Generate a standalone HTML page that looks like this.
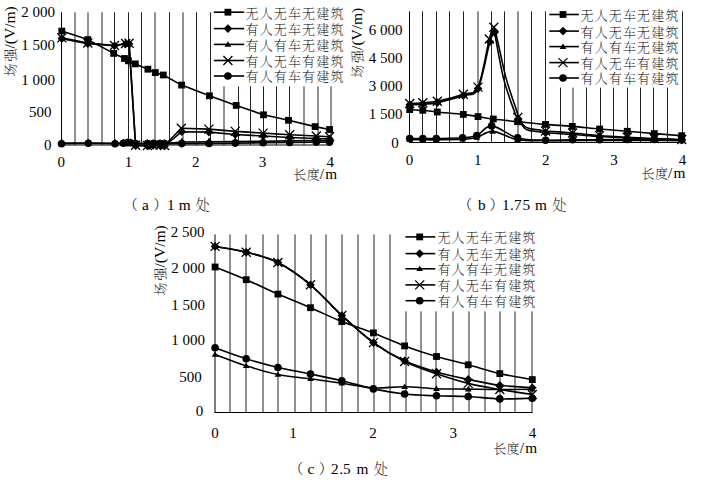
<!DOCTYPE html>
<html><head><meta charset="utf-8"><style>
html,body{margin:0;padding:0;background:#fff;}
body{width:703px;height:487px;overflow:hidden;}
svg{display:block;}
.t{font-family:'Liberation Serif','Noto Serif CJK SC',serif;font-size:15px;fill:#000;}
.lg{font-family:'Liberation Serif','Noto Serif CJK SC',serif;font-size:13px;letter-spacing:1.15px;font-weight:200;fill:#000;}
.cp{font-family:'Liberation Serif','Noto Serif CJK SC',serif;font-size:14.3px;font-weight:200;fill:#000;}
.tc{font-family:'Liberation Serif',serif;font-size:15.3px;fill:#000;}
.cj{font-family:'Liberation Serif','Noto Serif CJK SC',serif;font-size:13px;font-weight:200;fill:#000;}
</style></head><body>
<svg width="703" height="487" viewBox="0 0 703 487">
<rect width="703" height="487" fill="#fff"/>
<line x1="75" y1="12.3" x2="75" y2="145" stroke="#222" stroke-width="1.0"/>
<line x1="88" y1="12.3" x2="88" y2="145" stroke="#222" stroke-width="1.0"/>
<line x1="102" y1="12.3" x2="102" y2="145" stroke="#222" stroke-width="1.0"/>
<line x1="114.5" y1="12.3" x2="114.5" y2="145" stroke="#222" stroke-width="1.0"/>
<line x1="128.5" y1="12.3" x2="128.5" y2="145" stroke="#222" stroke-width="1.0"/>
<line x1="141.5" y1="12.3" x2="141.5" y2="145" stroke="#222" stroke-width="1.0"/>
<line x1="155" y1="12.3" x2="155" y2="145" stroke="#222" stroke-width="1.0"/>
<line x1="169.5" y1="12.3" x2="169.5" y2="145" stroke="#222" stroke-width="1.0"/>
<line x1="183" y1="12.3" x2="183" y2="145" stroke="#222" stroke-width="1.0"/>
<line x1="196.5" y1="12.3" x2="196.5" y2="145" stroke="#222" stroke-width="1.0"/>
<line x1="210.5" y1="12.3" x2="210.5" y2="145" stroke="#222" stroke-width="1.0"/>
<line x1="224" y1="86.4" x2="224" y2="145" stroke="#222" stroke-width="1.0"/>
<line x1="238.5" y1="86.4" x2="238.5" y2="145" stroke="#222" stroke-width="1.0"/>
<line x1="250.5" y1="86.4" x2="250.5" y2="145" stroke="#222" stroke-width="1.0"/>
<line x1="263.5" y1="86.4" x2="263.5" y2="145" stroke="#222" stroke-width="1.0"/>
<line x1="276.5" y1="86.4" x2="276.5" y2="145" stroke="#222" stroke-width="1.0"/>
<line x1="289.5" y1="86.4" x2="289.5" y2="145" stroke="#222" stroke-width="1.0"/>
<line x1="304" y1="86.4" x2="304" y2="145" stroke="#222" stroke-width="1.0"/>
<line x1="318" y1="86.4" x2="318" y2="145" stroke="#222" stroke-width="1.0"/>
<line x1="331" y1="86.4" x2="331" y2="145" stroke="#222" stroke-width="1.0"/>
<line x1="61.5" y1="12.3" x2="61.5" y2="145" stroke="#000" stroke-width="1.0"/>
<line x1="61" y1="145" x2="331.5" y2="145" stroke="#000" stroke-width="1.0"/>
<path d="M61.5,143.8 L88.3,143.3 L115,143.8 L123.3,143.3 L127.1,142.8 L130.5,142.8 L135.6,143.6 L147.5,143.6 L153.2,143.6 L160,143.6 L164.6,143.6 L181.8,143.6 L209.1,143.5 L235.3,143.1 L263.1,142.8 L289.7,142.5 L316.3,142.1 L329.6,142.1" fill="none" stroke="#000" stroke-width="1.6" stroke-linejoin="round"/>
<circle cx="61.5" cy="143.8" r="3.8" fill="#000"/>
<circle cx="88.3" cy="143.3" r="3.8" fill="#000"/>
<circle cx="115" cy="143.8" r="3.8" fill="#000"/>
<circle cx="123.3" cy="143.3" r="3.8" fill="#000"/>
<circle cx="127.1" cy="142.8" r="3.8" fill="#000"/>
<circle cx="130.5" cy="142.8" r="3.8" fill="#000"/>
<circle cx="135.6" cy="143.6" r="3.8" fill="#000"/>
<circle cx="147.5" cy="143.6" r="3.8" fill="#000"/>
<circle cx="153.2" cy="143.6" r="3.8" fill="#000"/>
<circle cx="160" cy="143.6" r="3.8" fill="#000"/>
<circle cx="164.6" cy="143.6" r="3.8" fill="#000"/>
<circle cx="181.8" cy="143.6" r="3.8" fill="#000"/>
<circle cx="209.1" cy="143.5" r="3.8" fill="#000"/>
<circle cx="235.3" cy="143.1" r="3.8" fill="#000"/>
<circle cx="263.1" cy="142.8" r="3.8" fill="#000"/>
<circle cx="289.7" cy="142.5" r="3.8" fill="#000"/>
<circle cx="316.3" cy="142.1" r="3.8" fill="#000"/>
<circle cx="329.6" cy="142.1" r="3.8" fill="#000"/>
<path d="M61.8,143 L88.3,143 L115,143.2 L123.3,143 L127.1,142.6 L130.5,142.6 L135.6,143.5 L147.5,143.5 L153.2,143.5 L160,143.5 L164.6,143.5 L181.8,142 L209.1,141.9 L235.3,141.5 L263.1,141.2 L289.7,140.9 L316.3,140.5 L329.6,140.5" fill="none" stroke="#000" stroke-width="1.6" stroke-linejoin="round"/>
<path d="M61.8,138.4 L65.1,144.8 L58.5,144.8Z" fill="#000"/>
<path d="M88.3,138.4 L91.6,144.8 L85,144.8Z" fill="#000"/>
<path d="M115,138.6 L118.3,145 L111.7,145Z" fill="#000"/>
<path d="M123.3,138.4 L126.6,144.8 L120,144.8Z" fill="#000"/>
<path d="M127.1,138 L130.4,144.4 L123.8,144.4Z" fill="#000"/>
<path d="M130.5,138 L133.8,144.4 L127.2,144.4Z" fill="#000"/>
<path d="M135.6,138.9 L138.9,145.3 L132.3,145.3Z" fill="#000"/>
<path d="M147.5,138.9 L150.8,145.3 L144.2,145.3Z" fill="#000"/>
<path d="M153.2,138.9 L156.5,145.3 L149.9,145.3Z" fill="#000"/>
<path d="M160,138.9 L163.3,145.3 L156.7,145.3Z" fill="#000"/>
<path d="M164.6,138.9 L167.9,145.3 L161.3,145.3Z" fill="#000"/>
<path d="M181.8,137.4 L185.1,143.8 L178.5,143.8Z" fill="#000"/>
<path d="M209.1,137.3 L212.4,143.7 L205.8,143.7Z" fill="#000"/>
<path d="M235.3,136.9 L238.6,143.3 L232,143.3Z" fill="#000"/>
<path d="M263.1,136.6 L266.4,143 L259.8,143Z" fill="#000"/>
<path d="M289.7,136.3 L293,142.7 L286.4,142.7Z" fill="#000"/>
<path d="M316.3,135.9 L319.6,142.3 L313,142.3Z" fill="#000"/>
<path d="M329.6,135.9 L332.9,142.3 L326.3,142.3Z" fill="#000"/>
<path d="M61.8,38.6 L87.8,43.6 L114.5,45.8 L125.6,44 L129.1,44 L135.6,145.8 L147.5,146 L153.2,145.5 L160,145.5 L164.6,146 L181.8,131.7 L208.9,132.1 L235.3,134.5 L263.1,136 L289.7,137.5 L316.3,138.5 L329.6,139" fill="none" stroke="#000" stroke-width="1.6" stroke-linejoin="round"/>
<path d="M61.8,34.3 L66.1,38.6 L61.8,42.9 L57.5,38.6Z" fill="#000"/>
<path d="M87.8,39.3 L92.1,43.6 L87.8,47.9 L83.5,43.6Z" fill="#000"/>
<path d="M114.5,41.5 L118.8,45.8 L114.5,50.1 L110.2,45.8Z" fill="#000"/>
<path d="M125.6,39.7 L129.9,44 L125.6,48.3 L121.3,44Z" fill="#000"/>
<path d="M129.1,39.7 L133.4,44 L129.1,48.3 L124.8,44Z" fill="#000"/>
<path d="M135.6,141.5 L139.9,145.8 L135.6,150.1 L131.3,145.8Z" fill="#000"/>
<path d="M147.5,141.7 L151.8,146 L147.5,150.3 L143.2,146Z" fill="#000"/>
<path d="M153.2,141.2 L157.5,145.5 L153.2,149.8 L148.9,145.5Z" fill="#000"/>
<path d="M160,141.2 L164.3,145.5 L160,149.8 L155.7,145.5Z" fill="#000"/>
<path d="M164.6,141.7 L168.9,146 L164.6,150.3 L160.3,146Z" fill="#000"/>
<path d="M181.8,127.4 L186.1,131.7 L181.8,136 L177.5,131.7Z" fill="#000"/>
<path d="M208.9,127.8 L213.2,132.1 L208.9,136.4 L204.6,132.1Z" fill="#000"/>
<path d="M235.3,130.2 L239.6,134.5 L235.3,138.8 L231,134.5Z" fill="#000"/>
<path d="M263.1,131.7 L267.4,136 L263.1,140.3 L258.8,136Z" fill="#000"/>
<path d="M289.7,133.2 L294,137.5 L289.7,141.8 L285.4,137.5Z" fill="#000"/>
<path d="M316.3,134.2 L320.6,138.5 L316.3,142.8 L312,138.5Z" fill="#000"/>
<path d="M329.6,134.7 L333.9,139 L329.6,143.3 L325.3,139Z" fill="#000"/>
<path d="M61.8,37.9 L87.8,43 L114.5,45.5 L125.6,43.5 L129.1,43.3 L135.6,145.3 L147.5,145.5 L153.2,145 L160,145 L164.6,145.5 L181.3,128.2 L208.9,129.1 L235.3,131.4 L263.1,133.1 L289.7,134.8 L316.3,136 L329.6,136.8" fill="none" stroke="#000" stroke-width="1.6" stroke-linejoin="round"/>
<path d="M57.3,33.4 L66.3,42.4 M66.3,33.4 L57.3,42.4" stroke="#000" stroke-width="1.3" fill="none"/>
<path d="M83.3,38.5 L92.3,47.5 M92.3,38.5 L83.3,47.5" stroke="#000" stroke-width="1.3" fill="none"/>
<path d="M110,41 L119,50 M119,41 L110,50" stroke="#000" stroke-width="1.3" fill="none"/>
<path d="M121.1,39 L130.1,48 M130.1,39 L121.1,48" stroke="#000" stroke-width="1.3" fill="none"/>
<path d="M124.6,38.8 L133.6,47.8 M133.6,38.8 L124.6,47.8" stroke="#000" stroke-width="1.3" fill="none"/>
<path d="M131.1,140.8 L140.1,149.8 M140.1,140.8 L131.1,149.8" stroke="#000" stroke-width="1.3" fill="none"/>
<path d="M143,141 L152,150 M152,141 L143,150" stroke="#000" stroke-width="1.3" fill="none"/>
<path d="M148.7,140.5 L157.7,149.5 M157.7,140.5 L148.7,149.5" stroke="#000" stroke-width="1.3" fill="none"/>
<path d="M155.5,140.5 L164.5,149.5 M164.5,140.5 L155.5,149.5" stroke="#000" stroke-width="1.3" fill="none"/>
<path d="M160.1,141 L169.1,150 M169.1,141 L160.1,150" stroke="#000" stroke-width="1.3" fill="none"/>
<path d="M176.8,123.7 L185.8,132.7 M185.8,123.7 L176.8,132.7" stroke="#000" stroke-width="1.3" fill="none"/>
<path d="M204.4,124.6 L213.4,133.6 M213.4,124.6 L204.4,133.6" stroke="#000" stroke-width="1.3" fill="none"/>
<path d="M230.8,126.9 L239.8,135.9 M239.8,126.9 L230.8,135.9" stroke="#000" stroke-width="1.3" fill="none"/>
<path d="M258.6,128.6 L267.6,137.6 M267.6,128.6 L258.6,137.6" stroke="#000" stroke-width="1.3" fill="none"/>
<path d="M285.2,130.3 L294.2,139.3 M294.2,130.3 L285.2,139.3" stroke="#000" stroke-width="1.3" fill="none"/>
<path d="M311.8,131.5 L320.8,140.5 M320.8,131.5 L311.8,140.5" stroke="#000" stroke-width="1.3" fill="none"/>
<path d="M325.1,132.3 L334.1,141.3 M334.1,132.3 L325.1,141.3" stroke="#000" stroke-width="1.3" fill="none"/>
<path d="M61.8,31.1 L87.8,39.6 L113.7,53.4 L124.5,58.5 L128.4,60.8 L135.3,63.9 L147.9,69.2 L155.3,72.6 L163.3,75 L181.6,85.1 L209.4,95.8 L236.2,105.4 L263.5,114.8 L288.5,120.3 L315.1,126.6 L329.6,129.5" fill="none" stroke="#000" stroke-width="1.6" stroke-linejoin="round"/>
<rect x="58.4" y="27.7" width="6.8" height="6.8" fill="#000"/>
<rect x="84.4" y="36.2" width="6.8" height="6.8" fill="#000"/>
<rect x="110.3" y="50" width="6.8" height="6.8" fill="#000"/>
<rect x="121.1" y="55.1" width="6.8" height="6.8" fill="#000"/>
<rect x="125" y="57.4" width="6.8" height="6.8" fill="#000"/>
<rect x="131.9" y="60.5" width="6.8" height="6.8" fill="#000"/>
<rect x="144.5" y="65.8" width="6.8" height="6.8" fill="#000"/>
<rect x="151.9" y="69.2" width="6.8" height="6.8" fill="#000"/>
<rect x="159.9" y="71.6" width="6.8" height="6.8" fill="#000"/>
<rect x="178.2" y="81.7" width="6.8" height="6.8" fill="#000"/>
<rect x="206" y="92.4" width="6.8" height="6.8" fill="#000"/>
<rect x="232.8" y="102" width="6.8" height="6.8" fill="#000"/>
<rect x="260.1" y="111.4" width="6.8" height="6.8" fill="#000"/>
<rect x="285.1" y="116.9" width="6.8" height="6.8" fill="#000"/>
<rect x="311.7" y="123.2" width="6.8" height="6.8" fill="#000"/>
<rect x="326.2" y="126.1" width="6.8" height="6.8" fill="#000"/>
<text x="54.9" y="17.1" text-anchor="end" class="t">2 000</text>
<text x="55.1" y="49.9" text-anchor="end" class="t">1 500</text>
<text x="54.9" y="84.5" text-anchor="end" class="t">1 000</text>
<text x="51.4" y="117.1" text-anchor="end" class="t">500</text>
<text x="51.4" y="150" text-anchor="end" class="t">0</text>
<text x="61.2" y="166.8" text-anchor="middle" class="t">0</text>
<text x="128.6" y="166.8" text-anchor="middle" class="t">1</text>
<text x="195.8" y="166.8" text-anchor="middle" class="t">2</text>
<text x="262.6" y="166.8" text-anchor="middle" class="t">3</text>
<text x="330.2" y="166.8" text-anchor="middle" class="t">4</text>
<text y="179.3" class="cj"><tspan x="293.25">长</tspan><tspan x="306.7">度</tspan></text>
<text y="179.3" class="tc"><tspan x="319.8">/</tspan><tspan x="325.35">m</tspan></text>
<g transform="translate(15,75.7) rotate(-90)"><text y="0" class="cj"><tspan x="-0.75">场</tspan><tspan x="14.2">强</tspan></text><text y="0" x="27.2" class="t" style="font-size:15.5px">/(V/m)</text></g>
<line x1="213.8" y1="12.2" x2="244.2" y2="12.2" stroke="#000" stroke-width="1.6"/>
<rect x="224.5" y="8.8" width="6.8" height="6.8" fill="#000"/>
<text x="245.5" y="17.6" class="lg">无人无车无建筑</text>
<line x1="213.8" y1="28.6" x2="244.2" y2="28.6" stroke="#000" stroke-width="1.6"/>
<path d="M227.9,24.3 L232.2,28.6 L227.9,32.9 L223.6,28.6Z" fill="#000"/>
<text x="245.5" y="34" class="lg">有人无车无建筑</text>
<line x1="213.8" y1="44.4" x2="244.2" y2="44.4" stroke="#000" stroke-width="1.6"/>
<path d="M227.9,41.3 L231.25,46.7 L224.55,46.7Z" fill="#000"/>
<text x="245.5" y="49.8" class="lg">有人有车无建筑</text>
<line x1="213.8" y1="60.5" x2="244.2" y2="60.5" stroke="#000" stroke-width="1.6"/>
<path d="M223.4,56 L232.4,65 M232.4,56 L223.4,65" stroke="#000" stroke-width="1.3" fill="none"/>
<text x="245.5" y="65.9" class="lg">有人无车有建筑</text>
<line x1="213.8" y1="76" x2="244.2" y2="76" stroke="#000" stroke-width="1.6"/>
<circle cx="227.9" cy="76" r="3.8" fill="#000"/>
<text x="245.5" y="81.4" class="lg">有人有车有建筑</text>
<text x="123.55" y="209.5" class="cp">（</text>
<text x="141.9" y="209.5" class="tc">a</text>
<text x="153.3" y="209.5" class="cp">）</text>
<text x="167.05" y="209.5" class="tc">1</text>
<text x="178.75" y="209.5" class="tc">m</text>
<text x="195.6" y="209.5" class="cp">处</text>
<line x1="422.5" y1="11.4" x2="422.5" y2="142.5" stroke="#222" stroke-width="1.0"/>
<line x1="436.5" y1="11.4" x2="436.5" y2="142.5" stroke="#222" stroke-width="1.0"/>
<line x1="449.5" y1="11.4" x2="449.5" y2="142.5" stroke="#222" stroke-width="1.0"/>
<line x1="463.5" y1="11.4" x2="463.5" y2="142.5" stroke="#222" stroke-width="1.0"/>
<line x1="478" y1="11.4" x2="478" y2="142.5" stroke="#222" stroke-width="1.0"/>
<line x1="491.5" y1="11.4" x2="491.5" y2="142.5" stroke="#222" stroke-width="1.0"/>
<line x1="504.5" y1="11.4" x2="504.5" y2="142.5" stroke="#222" stroke-width="1.0"/>
<line x1="518" y1="11.4" x2="518" y2="142.5" stroke="#222" stroke-width="1.0"/>
<line x1="531.5" y1="11.4" x2="531.5" y2="142.5" stroke="#222" stroke-width="1.0"/>
<line x1="545.5" y1="11.4" x2="545.5" y2="142.5" stroke="#222" stroke-width="1.0"/>
<line x1="560.5" y1="87.6" x2="560.5" y2="142.5" stroke="#222" stroke-width="1.0"/>
<line x1="573" y1="87.6" x2="573" y2="142.5" stroke="#222" stroke-width="1.0"/>
<line x1="586.5" y1="87.6" x2="586.5" y2="142.5" stroke="#222" stroke-width="1.0"/>
<line x1="600.5" y1="87.6" x2="600.5" y2="142.5" stroke="#222" stroke-width="1.0"/>
<line x1="613.5" y1="87.6" x2="613.5" y2="142.5" stroke="#222" stroke-width="1.0"/>
<line x1="627.5" y1="87.6" x2="627.5" y2="142.5" stroke="#222" stroke-width="1.0"/>
<line x1="640.5" y1="87.6" x2="640.5" y2="142.5" stroke="#222" stroke-width="1.0"/>
<line x1="653.5" y1="87.6" x2="653.5" y2="142.5" stroke="#222" stroke-width="1.0"/>
<line x1="667.5" y1="87.6" x2="667.5" y2="142.5" stroke="#222" stroke-width="1.0"/>
<line x1="682.5" y1="11.4" x2="682.5" y2="142.5" stroke="#222" stroke-width="1.0"/>
<line x1="409.5" y1="11.4" x2="409.5" y2="142.5" stroke="#000" stroke-width="1.0"/>
<line x1="409" y1="142.5" x2="683" y2="142.5" stroke="#000" stroke-width="1.0"/>
<path d="M409.7,138.5 C411.88,138.5 418.37,138.5 422.8,138.5 C427.23,138.5 429.67,138.62 436.3,138.5 C442.93,138.38 455.85,138.28 462.6,137.8 C469.35,137.32 471.95,137.58 476.8,135.6 C481.65,133.62 484.9,125.52 491.7,125.9 C498.5,126.28 508.62,135.5 517.6,137.9 C526.58,140.3 536.43,139.98 545.6,140.3 C554.77,140.62 563.6,139.88 572.6,139.8 C581.6,139.72 590.48,139.85 599.6,139.8 C608.72,139.75 618.18,139.55 627.3,139.5 C636.42,139.45 645.23,139.42 654.3,139.5 C663.37,139.58 677.13,139.92 681.7,140" fill="none" stroke="#000" stroke-width="1.6" stroke-linejoin="round"/>
<circle cx="409.7" cy="138.5" r="3.8" fill="#000"/>
<circle cx="422.8" cy="138.5" r="3.8" fill="#000"/>
<circle cx="436.3" cy="138.5" r="3.8" fill="#000"/>
<circle cx="462.6" cy="137.8" r="3.8" fill="#000"/>
<circle cx="476.8" cy="135.6" r="3.8" fill="#000"/>
<circle cx="491.7" cy="125.9" r="3.8" fill="#000"/>
<circle cx="517.6" cy="137.9" r="3.8" fill="#000"/>
<circle cx="545.6" cy="140.3" r="3.8" fill="#000"/>
<circle cx="572.6" cy="139.8" r="3.8" fill="#000"/>
<circle cx="599.6" cy="139.8" r="3.8" fill="#000"/>
<circle cx="627.3" cy="139.5" r="3.8" fill="#000"/>
<circle cx="654.3" cy="139.5" r="3.8" fill="#000"/>
<circle cx="681.7" cy="140" r="3.8" fill="#000"/>
<path d="M409.7,139.8 C411.88,139.8 418.37,139.8 422.8,139.8 C427.23,139.8 429.67,139.88 436.3,139.8 C442.93,139.72 455.85,139.68 462.6,139.3 C469.35,138.92 471.8,138.82 476.8,137.5 C481.8,136.18 485.8,131.05 492.6,131.4 C499.4,131.75 508.77,138.07 517.6,139.6 C526.43,141.13 536.43,140.43 545.6,140.6 C554.77,140.77 563.6,140.63 572.6,140.6 C581.6,140.57 590.48,140.43 599.6,140.4 C608.72,140.37 618.18,140.4 627.3,140.4 C636.42,140.4 645.23,140.37 654.3,140.4 C663.37,140.43 677.13,140.57 681.7,140.6" fill="none" stroke="#000" stroke-width="1.6" stroke-linejoin="round"/>
<path d="M409.7,136.7 L413.05,142.1 L406.35,142.1Z" fill="#000"/>
<path d="M422.8,136.7 L426.15,142.1 L419.45,142.1Z" fill="#000"/>
<path d="M436.3,136.7 L439.65,142.1 L432.95,142.1Z" fill="#000"/>
<path d="M462.6,136.2 L465.95,141.6 L459.25,141.6Z" fill="#000"/>
<path d="M476.8,134.4 L480.15,139.8 L473.45,139.8Z" fill="#000"/>
<path d="M492.6,128.3 L495.95,133.7 L489.25,133.7Z" fill="#000"/>
<path d="M517.6,136.5 L520.95,141.9 L514.25,141.9Z" fill="#000"/>
<path d="M545.6,137.5 L548.95,142.9 L542.25,142.9Z" fill="#000"/>
<path d="M572.6,137.5 L575.95,142.9 L569.25,142.9Z" fill="#000"/>
<path d="M599.6,137.3 L602.95,142.7 L596.25,142.7Z" fill="#000"/>
<path d="M627.3,137.3 L630.65,142.7 L623.95,142.7Z" fill="#000"/>
<path d="M654.3,137.3 L657.65,142.7 L650.95,142.7Z" fill="#000"/>
<path d="M681.7,137.5 L685.05,142.9 L678.35,142.9Z" fill="#000"/>
<path d="M409.7,104.8 C411.88,104.7 418.2,104.57 422.8,104.2 C427.4,103.83 430.55,104.03 437.3,102.6 C444.05,101.17 456.52,97.93 463.3,95.6 C470.08,93.27 473.57,97.57 478,88.6 C482.43,79.63 487.1,51.22 489.9,41.8 C492.7,32.38 493.52,32.23 494.8,32.1 C496.08,31.97 495.67,33.12 497.6,41 C499.53,48.88 503.13,67.48 506.4,79.4 C509.67,91.32 515.22,105.9 517.2,112.5 C519.18,119.1 517.12,116.42 518.3,119 C519.48,121.58 522.27,126.03 524.3,128 C526.33,129.97 528.05,130.2 530.5,130.8 C532.95,131.4 536.48,131.27 539,131.6 C541.52,131.93 540,132.32 545.6,132.8 C551.2,133.28 563.6,133.88 572.6,134.5 C581.6,135.12 590.48,135.92 599.6,136.5 C608.72,137.08 618.18,137.58 627.3,138 C636.42,138.42 645.23,138.67 654.3,139 C663.37,139.33 677.13,139.83 681.7,140" fill="none" stroke="#000" stroke-width="1.6" stroke-linejoin="round"/>
<path d="M409.7,100.5 L414,104.8 L409.7,109.1 L405.4,104.8Z" fill="#000"/>
<path d="M422.8,99.9 L427.1,104.2 L422.8,108.5 L418.5,104.2Z" fill="#000"/>
<path d="M437.3,98.3 L441.6,102.6 L437.3,106.9 L433,102.6Z" fill="#000"/>
<path d="M463.3,91.3 L467.6,95.6 L463.3,99.9 L459,95.6Z" fill="#000"/>
<path d="M478,84.3 L482.3,88.6 L478,92.9 L473.7,88.6Z" fill="#000"/>
<path d="M489.9,37.5 L494.2,41.8 L489.9,46.1 L485.6,41.8Z" fill="#000"/>
<path d="M494.8,27.8 L499.1,32.1 L494.8,36.4 L490.5,32.1Z" fill="#000"/>
<path d="M518.3,114.7 L522.6,119 L518.3,123.3 L514,119Z" fill="#000"/>
<path d="M545.6,128.5 L549.9,132.8 L545.6,137.1 L541.3,132.8Z" fill="#000"/>
<path d="M572.6,130.2 L576.9,134.5 L572.6,138.8 L568.3,134.5Z" fill="#000"/>
<path d="M599.6,132.2 L603.9,136.5 L599.6,140.8 L595.3,136.5Z" fill="#000"/>
<path d="M627.3,133.7 L631.6,138 L627.3,142.3 L623,138Z" fill="#000"/>
<path d="M654.3,134.7 L658.6,139 L654.3,143.3 L650,139Z" fill="#000"/>
<path d="M681.7,135.7 L686,140 L681.7,144.3 L677.4,140Z" fill="#000"/>
<path d="M409.7,103.5 C411.88,103.38 418.2,103.17 422.8,102.8 C427.4,102.43 430.55,102.73 437.3,101.3 C444.05,99.87 456.52,96.57 463.3,94.2 C470.08,91.83 473.67,96.3 478,87.1 C482.33,77.9 486.67,48.98 489.3,39 C491.93,29.02 492.75,27.37 493.8,27.2 C494.85,27.03 493.93,29.3 495.6,38 C497.27,46.7 500.63,67.07 503.8,79.4 C506.97,91.73 512.27,105.65 514.6,112 C516.93,118.35 516.18,115.17 517.8,117.5 C519.42,119.83 522.18,124.12 524.3,126 C526.42,127.88 528.05,128.17 530.5,128.8 C532.95,129.43 536.48,129.43 539,129.8 C541.52,130.17 540,130.47 545.6,131 C551.2,131.53 563.6,132.23 572.6,133 C581.6,133.77 590.48,134.88 599.6,135.6 C608.72,136.32 618.18,136.82 627.3,137.3 C636.42,137.78 645.23,138.13 654.3,138.5 C663.37,138.87 677.13,139.33 681.7,139.5" fill="none" stroke="#000" stroke-width="1.6" stroke-linejoin="round"/>
<path d="M405.2,99 L414.2,108 M414.2,99 L405.2,108" stroke="#000" stroke-width="1.3" fill="none"/>
<path d="M418.3,98.3 L427.3,107.3 M427.3,98.3 L418.3,107.3" stroke="#000" stroke-width="1.3" fill="none"/>
<path d="M432.8,96.8 L441.8,105.8 M441.8,96.8 L432.8,105.8" stroke="#000" stroke-width="1.3" fill="none"/>
<path d="M458.8,89.7 L467.8,98.7 M467.8,89.7 L458.8,98.7" stroke="#000" stroke-width="1.3" fill="none"/>
<path d="M473.5,82.6 L482.5,91.6 M482.5,82.6 L473.5,91.6" stroke="#000" stroke-width="1.3" fill="none"/>
<path d="M484.8,34.5 L493.8,43.5 M493.8,34.5 L484.8,43.5" stroke="#000" stroke-width="1.3" fill="none"/>
<path d="M489.3,22.7 L498.3,31.7 M498.3,22.7 L489.3,31.7" stroke="#000" stroke-width="1.3" fill="none"/>
<path d="M513.3,113 L522.3,122 M522.3,113 L513.3,122" stroke="#000" stroke-width="1.3" fill="none"/>
<path d="M541.1,126.5 L550.1,135.5 M550.1,126.5 L541.1,135.5" stroke="#000" stroke-width="1.3" fill="none"/>
<path d="M568.1,128.5 L577.1,137.5 M577.1,128.5 L568.1,137.5" stroke="#000" stroke-width="1.3" fill="none"/>
<path d="M595.1,131.1 L604.1,140.1 M604.1,131.1 L595.1,140.1" stroke="#000" stroke-width="1.3" fill="none"/>
<path d="M622.8,132.8 L631.8,141.8 M631.8,132.8 L622.8,141.8" stroke="#000" stroke-width="1.3" fill="none"/>
<path d="M649.8,134 L658.8,143 M658.8,134 L649.8,143" stroke="#000" stroke-width="1.3" fill="none"/>
<path d="M677.2,135 L686.2,144 M686.2,135 L677.2,144" stroke="#000" stroke-width="1.3" fill="none"/>
<path d="M409.7,109.6 C411.88,109.72 418.2,109.9 422.8,110.3 C427.4,110.7 430.55,111.32 437.3,112 C444.05,112.68 456.52,113.63 463.3,114.4 C470.08,115.17 473,115.83 478,116.6 C483,117.37 486.7,118.15 493.3,119 C499.9,119.85 508.9,120.8 517.6,121.7 C526.3,122.6 536.38,123.62 545.5,124.4 C554.62,125.18 563.28,125.63 572.3,126.4 C581.32,127.17 590.43,128.18 599.6,129 C608.77,129.82 618.18,130.53 627.3,131.3 C636.42,132.07 645.23,132.87 654.3,133.6 C663.37,134.33 677.13,135.35 681.7,135.7" fill="none" stroke="#000" stroke-width="1.6" stroke-linejoin="round"/>
<rect x="406.3" y="106.2" width="6.8" height="6.8" fill="#000"/>
<rect x="419.4" y="106.9" width="6.8" height="6.8" fill="#000"/>
<rect x="433.9" y="108.6" width="6.8" height="6.8" fill="#000"/>
<rect x="459.9" y="111" width="6.8" height="6.8" fill="#000"/>
<rect x="474.6" y="113.2" width="6.8" height="6.8" fill="#000"/>
<rect x="489.9" y="115.6" width="6.8" height="6.8" fill="#000"/>
<rect x="514.2" y="118.3" width="6.8" height="6.8" fill="#000"/>
<rect x="542.1" y="121" width="6.8" height="6.8" fill="#000"/>
<rect x="568.9" y="123" width="6.8" height="6.8" fill="#000"/>
<rect x="596.2" y="125.6" width="6.8" height="6.8" fill="#000"/>
<rect x="623.9" y="127.9" width="6.8" height="6.8" fill="#000"/>
<rect x="650.9" y="130.2" width="6.8" height="6.8" fill="#000"/>
<rect x="678.3" y="132.3" width="6.8" height="6.8" fill="#000"/>
<text x="402.6" y="35" text-anchor="end" class="t">6 000</text>
<text x="402.6" y="63.3" text-anchor="end" class="t">4 500</text>
<text x="402.6" y="91.2" text-anchor="end" class="t">3 000</text>
<text x="402.6" y="119.3" text-anchor="end" class="t">1 500</text>
<text x="398.8" y="147.9" text-anchor="end" class="t">0</text>
<text x="409.6" y="164.8" text-anchor="middle" class="t">0</text>
<text x="477.8" y="164.8" text-anchor="middle" class="t">1</text>
<text x="545.8" y="164.8" text-anchor="middle" class="t">2</text>
<text x="614.1" y="164.8" text-anchor="middle" class="t">3</text>
<text x="682.4" y="164.8" text-anchor="middle" class="t">4</text>
<text y="177.5" class="cj"><tspan x="641.45">长</tspan><tspan x="654.9">度</tspan></text>
<text y="177.5" class="tc"><tspan x="668">/</tspan><tspan x="673.55">m</tspan></text>
<g transform="translate(362.3,77.1) rotate(-90)"><text y="0" class="cj"><tspan x="-0.75">场</tspan><tspan x="14.2">强</tspan></text><text y="0" x="27.2" class="t" style="font-size:15.5px">/(V/m)</text></g>
<line x1="549.3" y1="14.5" x2="578.9" y2="14.5" stroke="#000" stroke-width="1.6"/>
<rect x="559.6" y="11.1" width="6.8" height="6.8" fill="#000"/>
<text x="580.5" y="19.9" class="lg">无人无车无建筑</text>
<line x1="549.3" y1="31.1" x2="578.9" y2="31.1" stroke="#000" stroke-width="1.6"/>
<path d="M563,26.8 L567.3,31.1 L563,35.4 L558.7,31.1Z" fill="#000"/>
<text x="580.5" y="36.5" class="lg">有人无车无建筑</text>
<line x1="549.3" y1="46.6" x2="578.9" y2="46.6" stroke="#000" stroke-width="1.6"/>
<path d="M563,43.5 L566.35,48.9 L559.65,48.9Z" fill="#000"/>
<text x="580.5" y="52" class="lg">有人有车无建筑</text>
<line x1="549.3" y1="62.6" x2="578.9" y2="62.6" stroke="#000" stroke-width="1.6"/>
<path d="M558.5,58.1 L567.5,67.1 M567.5,58.1 L558.5,67.1" stroke="#000" stroke-width="1.3" fill="none"/>
<text x="580.5" y="68" class="lg">有人无车有建筑</text>
<line x1="549.3" y1="78" x2="578.9" y2="78" stroke="#000" stroke-width="1.6"/>
<circle cx="563" cy="78" r="3.8" fill="#000"/>
<text x="580.5" y="83.4" class="lg">有人有车有建筑</text>
<text x="458.05" y="209.7" class="cp">（</text>
<text x="478" y="209.7" class="tc">b</text>
<text x="489.6" y="209.7" class="cp">）</text>
<text x="501.95" y="209.7" class="tc">1</text>
<text x="509.9" y="209.7" class="tc">.</text>
<text x="514" y="209.7" class="tc">7</text>
<text x="522.5" y="209.7" class="tc">5</text>
<text x="535" y="209.7" class="tc">m</text>
<text x="552.3" y="209.7" class="cp">处</text>
<line x1="230" y1="234.4" x2="230" y2="412.5" stroke="#222" stroke-width="1.0"/>
<line x1="246" y1="234.4" x2="246" y2="412.5" stroke="#222" stroke-width="1.0"/>
<line x1="263" y1="234.4" x2="263" y2="412.5" stroke="#222" stroke-width="1.0"/>
<line x1="278" y1="234.4" x2="278" y2="412.5" stroke="#222" stroke-width="1.0"/>
<line x1="295" y1="234.4" x2="295" y2="412.5" stroke="#222" stroke-width="1.0"/>
<line x1="311" y1="234.4" x2="311" y2="412.5" stroke="#222" stroke-width="1.0"/>
<line x1="326" y1="234.4" x2="326" y2="412.5" stroke="#222" stroke-width="1.0"/>
<line x1="342" y1="234.4" x2="342" y2="412.5" stroke="#222" stroke-width="1.0"/>
<line x1="358" y1="234.4" x2="358" y2="412.5" stroke="#222" stroke-width="1.0"/>
<line x1="374" y1="234.4" x2="374" y2="412.5" stroke="#222" stroke-width="1.0"/>
<line x1="390" y1="234.4" x2="390" y2="412.5" stroke="#222" stroke-width="1.0"/>
<line x1="406" y1="311.4" x2="406" y2="412.5" stroke="#222" stroke-width="1.0"/>
<line x1="421" y1="311.4" x2="421" y2="412.5" stroke="#222" stroke-width="1.0"/>
<line x1="436" y1="311.4" x2="436" y2="412.5" stroke="#222" stroke-width="1.0"/>
<line x1="453" y1="311.4" x2="453" y2="412.5" stroke="#222" stroke-width="1.0"/>
<line x1="469" y1="311.4" x2="469" y2="412.5" stroke="#222" stroke-width="1.0"/>
<line x1="485" y1="311.4" x2="485" y2="412.5" stroke="#222" stroke-width="1.0"/>
<line x1="500" y1="311.4" x2="500" y2="412.5" stroke="#222" stroke-width="1.0"/>
<line x1="515" y1="311.4" x2="515" y2="412.5" stroke="#222" stroke-width="1.0"/>
<line x1="532" y1="311.4" x2="532" y2="412.5" stroke="#222" stroke-width="1.0"/>
<line x1="215" y1="234.4" x2="215" y2="412.5" stroke="#000" stroke-width="1.0"/>
<line x1="214.5" y1="412.5" x2="532.5" y2="412.5" stroke="#000" stroke-width="1.0"/>
<path d="M215.1,347.8 C220.28,349.63 235.73,355.52 246.2,358.8 C256.67,362.08 267.18,364.97 277.9,367.5 C288.62,370.03 299.85,371.8 310.5,374 C321.15,376.2 331.32,378.22 341.8,380.7 C352.28,383.18 362.93,386.68 373.4,388.9 C383.87,391.12 394.08,392.85 404.6,394 C415.12,395.15 425.9,395.38 436.5,395.8 C447.1,396.22 457.65,395.98 468.2,396.5 C478.75,397.02 489.12,398.62 499.8,398.9 C510.48,399.18 526.88,398.32 532.3,398.2" fill="none" stroke="#000" stroke-width="1.6" stroke-linejoin="round"/>
<circle cx="215.1" cy="347.8" r="3.8" fill="#000"/>
<circle cx="246.2" cy="358.8" r="3.8" fill="#000"/>
<circle cx="277.9" cy="367.5" r="3.8" fill="#000"/>
<circle cx="310.5" cy="374" r="3.8" fill="#000"/>
<circle cx="341.8" cy="380.7" r="3.8" fill="#000"/>
<circle cx="373.4" cy="388.9" r="3.8" fill="#000"/>
<circle cx="404.6" cy="394" r="3.8" fill="#000"/>
<circle cx="436.5" cy="395.8" r="3.8" fill="#000"/>
<circle cx="468.2" cy="396.5" r="3.8" fill="#000"/>
<circle cx="499.8" cy="398.9" r="3.8" fill="#000"/>
<circle cx="532.3" cy="398.2" r="3.8" fill="#000"/>
<path d="M215.1,354.4 C220.28,356.3 235.73,362.45 246.2,365.8 C256.67,369.15 267.18,372.33 277.9,374.5 C288.62,376.67 299.85,377.33 310.5,378.8 C321.15,380.27 331.32,381.78 341.8,383.3 C352.28,384.82 362.93,387.33 373.4,387.9 C383.87,388.47 394.08,386.57 404.6,386.7 C415.12,386.83 425.9,388.3 436.5,388.7 C447.1,389.1 457.65,388.97 468.2,389.1 C478.75,389.23 489.12,389.47 499.8,389.5 C510.48,389.53 526.88,389.33 532.3,389.3" fill="none" stroke="#000" stroke-width="1.6" stroke-linejoin="round"/>
<path d="M215.1,351.3 L218.45,356.7 L211.75,356.7Z" fill="#000"/>
<path d="M246.2,362.7 L249.55,368.1 L242.85,368.1Z" fill="#000"/>
<path d="M277.9,371.4 L281.25,376.8 L274.55,376.8Z" fill="#000"/>
<path d="M310.5,375.7 L313.85,381.1 L307.15,381.1Z" fill="#000"/>
<path d="M341.8,380.2 L345.15,385.6 L338.45,385.6Z" fill="#000"/>
<path d="M373.4,384.8 L376.75,390.2 L370.05,390.2Z" fill="#000"/>
<path d="M404.6,383.6 L407.95,389 L401.25,389Z" fill="#000"/>
<path d="M436.5,385.6 L439.85,391 L433.15,391Z" fill="#000"/>
<path d="M468.2,386 L471.55,391.4 L464.85,391.4Z" fill="#000"/>
<path d="M499.8,386.4 L503.15,391.8 L496.45,391.8Z" fill="#000"/>
<path d="M532.3,386.2 L535.65,391.6 L528.95,391.6Z" fill="#000"/>
<path d="M215.1,246.4 C220.28,247.37 235.73,249.52 246.2,252.2 C256.67,254.88 267.18,257.07 277.9,262.5 C288.62,267.93 299.85,275.97 310.5,284.8 C321.15,293.63 331.32,305.87 341.8,315.5 C352.28,325.13 362.93,335.05 373.4,342.6 C383.87,350.15 394.08,355.9 404.6,360.8 C415.12,365.7 425.9,368.9 436.5,372 C447.1,375.1 457.65,377.18 468.2,379.4 C478.75,381.62 489.12,383.92 499.8,385.3 C510.48,386.68 526.88,387.3 532.3,387.7" fill="none" stroke="#000" stroke-width="1.6" stroke-linejoin="round"/>
<path d="M215.1,242.1 L219.4,246.4 L215.1,250.7 L210.8,246.4Z" fill="#000"/>
<path d="M246.2,247.9 L250.5,252.2 L246.2,256.5 L241.9,252.2Z" fill="#000"/>
<path d="M277.9,258.2 L282.2,262.5 L277.9,266.8 L273.6,262.5Z" fill="#000"/>
<path d="M310.5,280.5 L314.8,284.8 L310.5,289.1 L306.2,284.8Z" fill="#000"/>
<path d="M341.8,311.2 L346.1,315.5 L341.8,319.8 L337.5,315.5Z" fill="#000"/>
<path d="M373.4,338.3 L377.7,342.6 L373.4,346.9 L369.1,342.6Z" fill="#000"/>
<path d="M404.6,356.5 L408.9,360.8 L404.6,365.1 L400.3,360.8Z" fill="#000"/>
<path d="M436.5,367.7 L440.8,372 L436.5,376.3 L432.2,372Z" fill="#000"/>
<path d="M468.2,375.1 L472.5,379.4 L468.2,383.7 L463.9,379.4Z" fill="#000"/>
<path d="M499.8,381 L504.1,385.3 L499.8,389.6 L495.5,385.3Z" fill="#000"/>
<path d="M532.3,383.4 L536.6,387.7 L532.3,392 L528,387.7Z" fill="#000"/>
<path d="M215.1,246.4 C220.28,247.37 235.73,249.52 246.2,252.2 C256.67,254.88 267.18,257.07 277.9,262.5 C288.62,267.93 299.85,275.97 310.5,284.8 C321.15,293.63 331.32,305.87 341.8,315.5 C352.28,325.13 362.93,334.93 373.4,342.6 C383.87,350.27 394.08,356.3 404.6,361.5 C415.12,366.7 425.9,370.15 436.5,373.8 C447.1,377.45 457.65,380.78 468.2,383.4 C478.75,386.02 489.12,387.65 499.8,389.5 C510.48,391.35 526.88,393.67 532.3,394.5" fill="none" stroke="#000" stroke-width="1.6" stroke-linejoin="round"/>
<path d="M210.6,241.9 L219.6,250.9 M219.6,241.9 L210.6,250.9" stroke="#000" stroke-width="1.3" fill="none"/>
<path d="M241.7,247.7 L250.7,256.7 M250.7,247.7 L241.7,256.7" stroke="#000" stroke-width="1.3" fill="none"/>
<path d="M273.4,258 L282.4,267 M282.4,258 L273.4,267" stroke="#000" stroke-width="1.3" fill="none"/>
<path d="M306,280.3 L315,289.3 M315,280.3 L306,289.3" stroke="#000" stroke-width="1.3" fill="none"/>
<path d="M337.3,311 L346.3,320 M346.3,311 L337.3,320" stroke="#000" stroke-width="1.3" fill="none"/>
<path d="M368.9,338.1 L377.9,347.1 M377.9,338.1 L368.9,347.1" stroke="#000" stroke-width="1.3" fill="none"/>
<path d="M400.1,357 L409.1,366 M409.1,357 L400.1,366" stroke="#000" stroke-width="1.3" fill="none"/>
<path d="M432,369.3 L441,378.3 M441,369.3 L432,378.3" stroke="#000" stroke-width="1.3" fill="none"/>
<path d="M463.7,378.9 L472.7,387.9 M472.7,378.9 L463.7,387.9" stroke="#000" stroke-width="1.3" fill="none"/>
<path d="M495.3,385 L504.3,394 M504.3,385 L495.3,394" stroke="#000" stroke-width="1.3" fill="none"/>
<path d="M527.8,390 L536.8,399 M536.8,390 L527.8,399" stroke="#000" stroke-width="1.3" fill="none"/>
<path d="M215.1,267 C220.28,269.12 235.73,275.18 246.2,279.7 C256.67,284.22 267.18,289.43 277.9,294.1 C288.62,298.77 299.85,303.12 310.5,307.7 C321.15,312.28 331.32,317.4 341.8,321.6 C352.28,325.8 362.93,328.85 373.4,332.9 C383.87,336.95 394.08,341.97 404.6,345.9 C415.12,349.83 425.9,353.35 436.5,356.5 C447.1,359.65 457.65,361.95 468.2,364.8 C478.75,367.65 489.12,371.13 499.8,373.6 C510.48,376.07 526.88,378.6 532.3,379.6" fill="none" stroke="#000" stroke-width="1.6" stroke-linejoin="round"/>
<rect x="211.7" y="263.6" width="6.8" height="6.8" fill="#000"/>
<rect x="242.8" y="276.3" width="6.8" height="6.8" fill="#000"/>
<rect x="274.5" y="290.7" width="6.8" height="6.8" fill="#000"/>
<rect x="307.1" y="304.3" width="6.8" height="6.8" fill="#000"/>
<rect x="338.4" y="318.2" width="6.8" height="6.8" fill="#000"/>
<rect x="370" y="329.5" width="6.8" height="6.8" fill="#000"/>
<rect x="401.2" y="342.5" width="6.8" height="6.8" fill="#000"/>
<rect x="433.1" y="353.1" width="6.8" height="6.8" fill="#000"/>
<rect x="464.8" y="361.4" width="6.8" height="6.8" fill="#000"/>
<rect x="496.4" y="370.2" width="6.8" height="6.8" fill="#000"/>
<rect x="528.9" y="376.2" width="6.8" height="6.8" fill="#000"/>
<text x="204.6" y="237.4" text-anchor="end" class="t">2 500</text>
<text x="205" y="273.4" text-anchor="end" class="t">2 000</text>
<text x="204.9" y="309.5" text-anchor="end" class="t">1 500</text>
<text x="205.1" y="345.4" text-anchor="end" class="t">1 000</text>
<text x="201.8" y="382" text-anchor="end" class="t">500</text>
<text x="203.3" y="416.4" text-anchor="end" class="t">0</text>
<text x="215" y="437.8" text-anchor="middle" class="t">0</text>
<text x="293" y="437.8" text-anchor="middle" class="t">1</text>
<text x="373" y="437.8" text-anchor="middle" class="t">2</text>
<text x="453.3" y="437.8" text-anchor="middle" class="t">3</text>
<text x="532.5" y="437.8" text-anchor="middle" class="t">4</text>
<text y="453" class="cj"><tspan x="493.15">长</tspan><tspan x="506.6">度</tspan></text>
<text y="453" class="tc"><tspan x="519.7">/</tspan><tspan x="525.25">m</tspan></text>
<g transform="translate(164.5,294.7) rotate(-90)"><text y="0" class="cj"><tspan x="-0.75">场</tspan><tspan x="14.2">强</tspan></text><text y="0" x="27.2" class="t" style="font-size:15.5px">/(V/m)</text></g>
<line x1="405.5" y1="236.9" x2="435.2" y2="236.9" stroke="#000" stroke-width="1.6"/>
<rect x="416.3" y="233.5" width="6.8" height="6.8" fill="#000"/>
<text x="437.4" y="242.3" class="lg">无人无车无建筑</text>
<line x1="405.5" y1="253.6" x2="435.2" y2="253.6" stroke="#000" stroke-width="1.6"/>
<path d="M419.7,249.3 L424,253.6 L419.7,257.9 L415.4,253.6Z" fill="#000"/>
<text x="437.4" y="259" class="lg">有人无车无建筑</text>
<line x1="405.5" y1="268.8" x2="435.2" y2="268.8" stroke="#000" stroke-width="1.6"/>
<path d="M419.7,265.7 L423.05,271.1 L416.35,271.1Z" fill="#000"/>
<text x="437.4" y="274.2" class="lg">有人有车无建筑</text>
<line x1="405.5" y1="284.9" x2="435.2" y2="284.9" stroke="#000" stroke-width="1.6"/>
<path d="M415.2,280.4 L424.2,289.4 M424.2,280.4 L415.2,289.4" stroke="#000" stroke-width="1.3" fill="none"/>
<text x="437.4" y="290.3" class="lg">有人无车有建筑</text>
<line x1="405.5" y1="300.7" x2="435.2" y2="300.7" stroke="#000" stroke-width="1.6"/>
<circle cx="419.7" cy="300.7" r="3.8" fill="#000"/>
<text x="437.4" y="306.1" class="lg">有人有车有建筑</text>
<text x="288.95" y="473.5" class="cp">（</text>
<text x="307.4" y="473.5" class="tc">c</text>
<text x="318.8" y="473.5" class="cp">）</text>
<text x="331.05" y="473.5" class="tc">2</text>
<text x="339.2" y="473.5" class="tc">.</text>
<text x="343" y="473.5" class="tc">5</text>
<text x="356.55" y="473.5" class="tc">m</text>
<text x="373.7" y="473.5" class="cp">处</text>
</svg>
</body></html>
